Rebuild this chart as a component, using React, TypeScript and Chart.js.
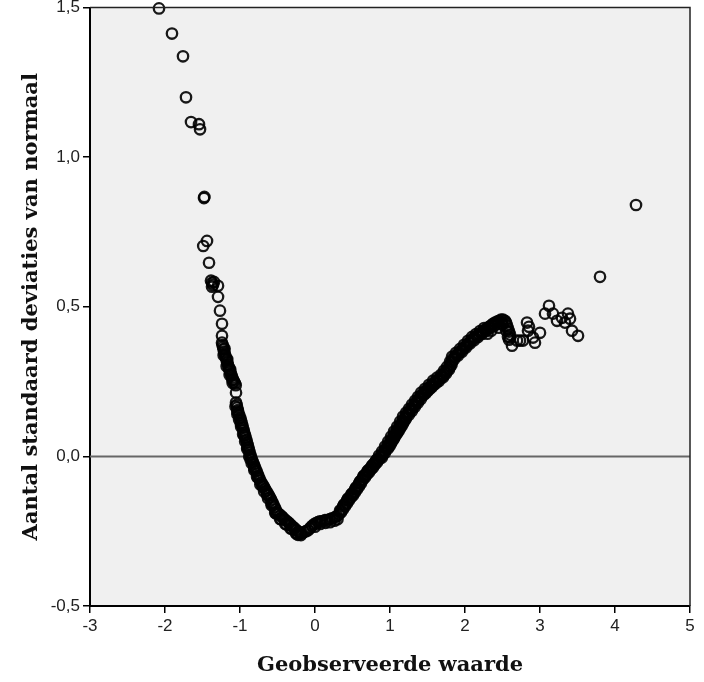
import { useEffect, useRef } from "react";
import { Chart, registerables } from "chart.js";

Chart.register(...registerables);

// Detrended normal Q-Q data: observed value (x) and deviation from normal (y).
// Lower tail: sparse points above the main curve.
const lowTailX = [
  -2.08, -1.907, -1.76, -1.72, -1.653, -1.547, -1.533, -1.48, -1.475, -1.49, -1.44, -1.413,
  -1.387, -1.373, -1.36, -1.373, -1.347, -1.293, -1.293, -1.267, -1.24, -1.24,
];
const lowTailY = [
  1.497, 1.413, 1.337, 1.2, 1.117, 1.11, 1.093, 0.863, 0.867, 0.703, 0.72, 0.647,
  0.587, 0.58, 0.573, 0.567, 0.583, 0.57, 0.533, 0.487, 0.443, 0.403,
];

// Descending part of the curve down to the minimum.
const fallX = [
  -1.24, -1.233, -1.225, -1.205, -1.218, -1.212, -1.203, -1.195, -1.187, -1.17, -1.178, -1.168,
  -1.16, -1.15, -1.142, -1.13, -1.133, -1.123, -1.112, -1.102, -1.1, -1.092, -1.08, -1.068,
  -1.057, -1.053, -1.053, -1.045, -1.038, -1.03, -1.02, -1.008, -0.997, -0.987, -0.978, -0.97,
  -0.961, -0.952, -0.943, -0.934, -0.925, -0.916, -0.907, -0.898, -0.889, -0.88, -0.871, -0.862,
  -0.853, -0.841, -0.829, -0.817, -0.805, -0.793, -0.781, -0.769, -0.757, -0.745, -0.733, -0.716,
  -0.7, -0.683, -0.667, -0.65, -0.633, -0.617, -0.6, -0.584, -0.569, -0.553, -0.538, -0.522,
  -0.507, -0.484, -0.461, -0.438, -0.415, -0.393, -0.37, -0.347, -0.322, -0.298, -0.273, -0.249,
  -0.227, -0.224, -0.2, -0.187,
];
const fallY = [
  0.38, 0.372, 0.365, 0.36, 0.358, 0.35, 0.343, 0.336, 0.329, 0.325, 0.321, 0.314,
  0.306, 0.298, 0.291, 0.29, 0.284, 0.277, 0.27, 0.263, 0.255, 0.256, 0.25, 0.244,
  0.238, 0.213, 0.18, 0.172, 0.163, 0.155, 0.146, 0.137, 0.128, 0.12, 0.112, 0.104,
  0.096, 0.087, 0.079, 0.071, 0.063, 0.055, 0.046, 0.038, 0.03, 0.022, 0.013, 0.005,
  -0.003, -0.011, -0.018, -0.026, -0.034, -0.041, -0.049, -0.057, -0.064, -0.072, -0.08, -0.087,
  -0.094, -0.101, -0.108, -0.116, -0.123, -0.13, -0.137, -0.145, -0.153, -0.162, -0.17, -0.178,
  -0.187, -0.192, -0.197, -0.202, -0.208, -0.213, -0.218, -0.223, -0.229, -0.235, -0.24, -0.246,
  -0.262, -0.251, -0.257, -0.263,
];

// Observations lying just above/right of the descending curve.
const fallRightX = [
  -1.035, -0.99, -0.945, -0.9, -0.86, -0.81, -0.76, -0.7, -0.64, -0.58, -0.52, -0.45,
  -0.38, -0.31, -0.25,
];
const fallRightY = [
  0.15, 0.11, 0.07, 0.03, -0.01, -0.04, -0.07, -0.1, -0.128, -0.158, -0.19, -0.21,
  -0.228, -0.242, -0.256,
];

// Observations lying just below/left of the descending curve.
const fallLeftX = [
  -1.218, -1.178, -1.138, -1.098, -1.06, -1.035, -1.012, -0.985, -0.958, -0.931, -0.904, -0.877,
  -0.844, -0.808, -0.772, -0.729, -0.678, -0.626, -0.578, -0.53, -0.466, -0.398, -0.326, -0.252,
];
const fallLeftY = [
  0.338, 0.301, 0.272, 0.245, 0.167, 0.141, 0.123, 0.099, 0.074, 0.05, 0.025, 0.0,
  -0.023, -0.046, -0.069, -0.094, -0.117, -0.14, -0.163, -0.189, -0.209, -0.225, -0.241, -0.258,
];

// Rising part of the curve up to the hump near 2.5.
const riseX = [
  -0.173, -0.147, -0.12, -0.093, -0.067, -0.04, -0.013, 0.013, 0.04, 0.067, 0.093, 0.133,
  0.16, 0.2, 0.227, 0.267, 0.293, 0.32, 0.347, 0.373, 0.4, 0.427, 0.453, 0.48,
  0.507, 0.533, 0.56, 0.587, 0.613, 0.64, 0.667, 0.693, 0.72, 0.747, 0.773, 0.8,
  0.827, 0.853, 0.867, 0.893, 0.907, 0.933, 0.947, 0.973, 0.987, 1.013, 1.027, 1.053,
  1.067, 1.093, 1.107, 1.133, 1.147, 1.173, 1.187, 1.213, 1.227, 1.253, 1.267, 1.293,
  1.307, 1.333, 1.347, 1.373, 1.387, 1.413, 1.427, 1.453, 1.48, 1.507, 1.533, 1.56,
  1.587, 1.613, 1.64, 1.667, 1.693, 1.72, 1.733, 1.76, 1.773, 1.8, 1.813, 1.827,
  1.84, 1.867, 1.893, 1.92, 1.947, 1.973, 2.0, 2.027, 2.053, 2.08, 2.107, 2.133,
  2.16, 2.187, 2.213, 2.24, 2.267, 2.293, 2.3, 2.32, 2.347, 2.35, 2.373, 2.4,
  2.427, 2.45, 2.453, 2.48, 2.5, 2.507, 2.533, 2.547, 2.55, 2.56, 2.573, 2.587, 2.6,
];
const riseY = [
  -0.257, -0.253, -0.25, -0.247, -0.24, -0.233, -0.227, -0.223, -0.22, -0.217, -0.217, -0.213,
  -0.213, -0.21, -0.207, -0.203, -0.2, -0.193, -0.187, -0.177, -0.167, -0.157, -0.147, -0.137,
  -0.13, -0.12, -0.11, -0.1, -0.09, -0.077, -0.07, -0.06, -0.053, -0.043, -0.037, -0.027,
  -0.02, -0.01, -0.003, 0.003, 0.01, 0.02, 0.027, 0.033, 0.043, 0.05, 0.06, 0.067,
  0.077, 0.083, 0.093, 0.1, 0.11, 0.117, 0.127, 0.133, 0.14, 0.147, 0.153, 0.16,
  0.167, 0.173, 0.18, 0.187, 0.193, 0.2, 0.207, 0.213, 0.22, 0.227, 0.233, 0.24,
  0.247, 0.25, 0.257, 0.26, 0.267, 0.273, 0.28, 0.287, 0.293, 0.3, 0.31, 0.317,
  0.327, 0.333, 0.34, 0.347, 0.353, 0.36, 0.367, 0.373, 0.38, 0.387, 0.393, 0.397,
  0.403, 0.407, 0.413, 0.417, 0.423, 0.427, 0.41, 0.433, 0.437, 0.42, 0.443, 0.447,
  0.45, 0.43, 0.453, 0.457, 0.44, 0.457, 0.453, 0.447, 0.42, 0.437, 0.427, 0.417, 0.407,
];

// Observations lying just below/right of the rising curve.
const riseLowX = [
  0.0, 0.07, 0.14, 0.2, 0.26, 0.3,
  0.348, 0.375, 0.401, 0.428, 0.455, 0.481, 0.508, 0.535, 0.561, 0.588, 0.615, 0.641,
  0.668, 0.695, 0.721, 0.748, 0.775, 0.801, 0.828, 0.892, 0.932, 0.972, 0.992, 1.012,
  1.032, 1.052, 1.072, 1.092, 1.112, 1.132, 1.152, 1.172, 1.192, 1.212, 1.252, 1.292,
  1.332, 1.372, 1.412, 1.452, 1.479, 1.505, 1.532, 1.559, 1.585, 1.612, 1.653, 1.707,
  1.747, 1.787, 1.82, 1.853, 1.907, 1.96, 2.013, 2.067, 2.12, 2.173, 2.227, 2.28,
  2.333, 2.387, 2.44, 2.493,
];
const riseLowY = [
  -0.235, -0.226, -0.222, -0.22, -0.215, -0.21,
  -0.18, -0.167, -0.159, -0.147, -0.139, -0.128, -0.122, -0.11, -0.102, -0.09, -0.081, -0.068,
  -0.062, -0.051, -0.045, -0.036, -0.027, -0.02, -0.01, -0.004, 0.011, 0.026, 0.034, 0.042,
  0.051, 0.059, 0.068, 0.076, 0.084, 0.092, 0.101, 0.109, 0.118, 0.126, 0.139, 0.152,
  0.166, 0.179, 0.192, 0.206, 0.212, 0.219, 0.226, 0.232, 0.239, 0.244, 0.252, 0.264,
  0.277, 0.29, 0.305, 0.324, 0.337, 0.35, 0.364, 0.377, 0.388, 0.399, 0.409, 0.419,
  0.428, 0.436, 0.443, 0.447,
];

// Observations lying just above/left of the rising curve.
const riseHighX = [
  0.334, 0.387, 0.44, 0.494, 0.547, 0.6, 0.654, 0.707, 0.76, 0.814, 0.854, 0.894,
  0.934, 0.974, 1.014, 1.054, 1.094, 1.134, 1.174, 1.214, 1.254, 1.294, 1.334, 1.374,
  1.414, 1.467, 1.52, 1.574, 1.627, 1.68, 1.72, 1.76, 1.8, 1.827, 1.88, 1.934,
  1.987, 2.04, 2.094, 2.147, 2.2, 2.254,
];
const riseHighY = [
  -0.181, -0.161, -0.141, -0.124, -0.104, -0.084, -0.064, -0.047, -0.031, -0.014, 0.003, 0.016,
  0.033, 0.049, 0.066, 0.083, 0.099, 0.116, 0.133, 0.146, 0.159, 0.173, 0.186, 0.199,
  0.213, 0.226, 0.239, 0.253, 0.263, 0.273, 0.286, 0.299, 0.316, 0.333, 0.346, 0.359,
  0.373, 0.386, 0.399, 0.409, 0.419, 0.429,
];

// Upper tail: scattered points past the hump.
const highTailX = [
  2.573, 2.587, 2.6, 2.627, 2.693, 2.733, 2.773, 2.827, 2.84, 2.853, 2.907, 2.933,
  3.0, 3.067, 3.12, 3.173, 3.227, 3.293, 3.333, 3.373, 3.4, 3.427, 3.507, 3.8, 4.28,
];
const highTailY = [
  0.4, 0.39, 0.397, 0.37, 0.387, 0.387, 0.387, 0.447, 0.42, 0.433, 0.397, 0.38,
  0.413, 0.477, 0.503, 0.477, 0.453, 0.463, 0.447, 0.477, 0.46, 0.42, 0.403, 0.6, 0.84,
];

const xTickValues = [-3, -2, -1, 0, 1, 2, 3, 4, 5];
const yTickValues = [-0.5, 0, 0.5, 1, 1.5];
const xAxisTitle = "Geobserveerde waarde";
const yAxisTitle = "Aantal standaard deviaties van normaal";

const toPoints = (xs: number[], ys: number[]) => xs.map((x, i) => ({ x, y: ys[i] }));

const plotFrame = {
  id: "plotFrame",
  beforeDraw(chart: any) {
    const { ctx, chartArea: a } = chart;
    ctx.save();
    ctx.fillStyle = "#ffffff";
    ctx.fillRect(0, 0, chart.width, chart.height);
    ctx.fillStyle = "#f0f0f0";
    ctx.fillRect(a.left, a.top, a.right - a.left, a.bottom - a.top);
    ctx.restore();
  },
  beforeDatasetsDraw(chart: any) {
    const { ctx, chartArea: a, scales } = chart;
    const y0 = scales.y.getPixelForValue(0);
    ctx.save();
    ctx.strokeStyle = "#666666";
    ctx.lineWidth = 2;
    ctx.beginPath();
    ctx.moveTo(a.left, y0);
    ctx.lineTo(a.right, y0);
    ctx.stroke();
    ctx.restore();
  },
  afterDraw(chart: any) {
    const { ctx, chartArea: a } = chart;
    ctx.save();
    ctx.strokeStyle = "#222222";
    ctx.lineWidth = 1.5;
    ctx.beginPath();
    ctx.moveTo(a.left, a.top);
    ctx.lineTo(a.right, a.top);
    ctx.lineTo(a.right, a.bottom);
    ctx.stroke();
    ctx.restore();
  },
};

export default function App() {
  const canvasRef = useRef<HTMLCanvasElement | null>(null);

  useEffect(() => {
    document.body.style.margin = "0";
    const canvas = canvasRef.current;
    if (!canvas) return;

    const points = [
      ...toPoints(lowTailX, lowTailY),
      ...toPoints(fallX, fallY),
      ...toPoints(fallRightX, fallRightY),
      ...toPoints(fallLeftX, fallLeftY),
      ...toPoints(riseX, riseY),
      ...toPoints(riseLowX, riseLowY),
      ...toPoints(riseHighX, riseHighY),
      ...toPoints(highTailX, highTailY),
    ];

    const tickFont = { family: "'Liberation Sans', Arial, sans-serif", size: 17 };
    const titleFont = { family: "'DejaVu Serif', serif", size: 21, weight: "bold" as const };

    const chart = new Chart(canvas, {
      type: "scatter",
      data: {
        datasets: [
          {
            data: points,
            pointRadius: 5.2,
            pointBorderWidth: 2.3,
            pointBorderColor: "rgba(0,0,0,0.9)",
            pointBackgroundColor: "rgba(0,0,0,0)",
            pointHoverRadius: 5.2,
            showLine: false,
            clip: false,
          },
        ],
      },
      options: {
        animation: false,
        responsive: false,
        maintainAspectRatio: false,
        events: [],
        layout: { padding: { top: 6, right: 14, left: 0, bottom: 0 } },
        plugins: { legend: { display: false }, tooltip: { enabled: false } },
        scales: {
          x: {
            type: "linear",
            min: -3,
            max: 5,
            afterBuildTicks: (s: any) => {
              s.ticks = xTickValues.map((v) => ({ value: v }));
            },
            afterFit: (s: any) => {
              s.height = 76;
              s.paddingLeft = 0;
              s.paddingRight = 0;
            },
            ticks: {
              font: tickFont,
              color: "#222",
              padding: 3,
              maxRotation: 0,
              autoSkip: false,
              callback: (v: any) => String(v),
            },
            grid: { drawOnChartArea: false, drawTicks: true, tickLength: 7, color: "#000", lineWidth: 1.5 },
            border: { display: true, color: "#000", width: 2 },
            title: {
              display: true,
              text: xAxisTitle,
              font: titleFont,
              color: "#111",
              padding: { top: 0, bottom: 4 },
            },
          },
          y: {
            type: "linear",
            min: -0.5,
            max: 1.5,
            afterBuildTicks: (s: any) => {
              s.ticks = yTickValues.map((v) => ({ value: v }));
            },
            afterFit: (s: any) => {
              s.width = 90;
              s.paddingTop = 0;
              s.paddingBottom = 0;
            },
            ticks: {
              font: tickFont,
              color: "#222",
              padding: 3,
              autoSkip: false,
              callback: (v: any) => Number(v).toFixed(1).replace(".", ","),
            },
            grid: { drawOnChartArea: false, drawTicks: true, tickLength: 7, color: "#000", lineWidth: 1.5 },
            border: { display: true, color: "#000", width: 2 },
            title: {
              display: true,
              text: yAxisTitle,
              font: titleFont,
              color: "#111",
              padding: { top: 19, bottom: 0 },
            },
          },
        },
      },
      plugins: [plotFrame],
    });

    return () => chart.destroy();
  }, []);

  return (
    <div style={{ width: 704, height: 682 }}>
      <canvas ref={canvasRef} width={704} height={682} style={{ display: "block" }} />
    </div>
  );
}
